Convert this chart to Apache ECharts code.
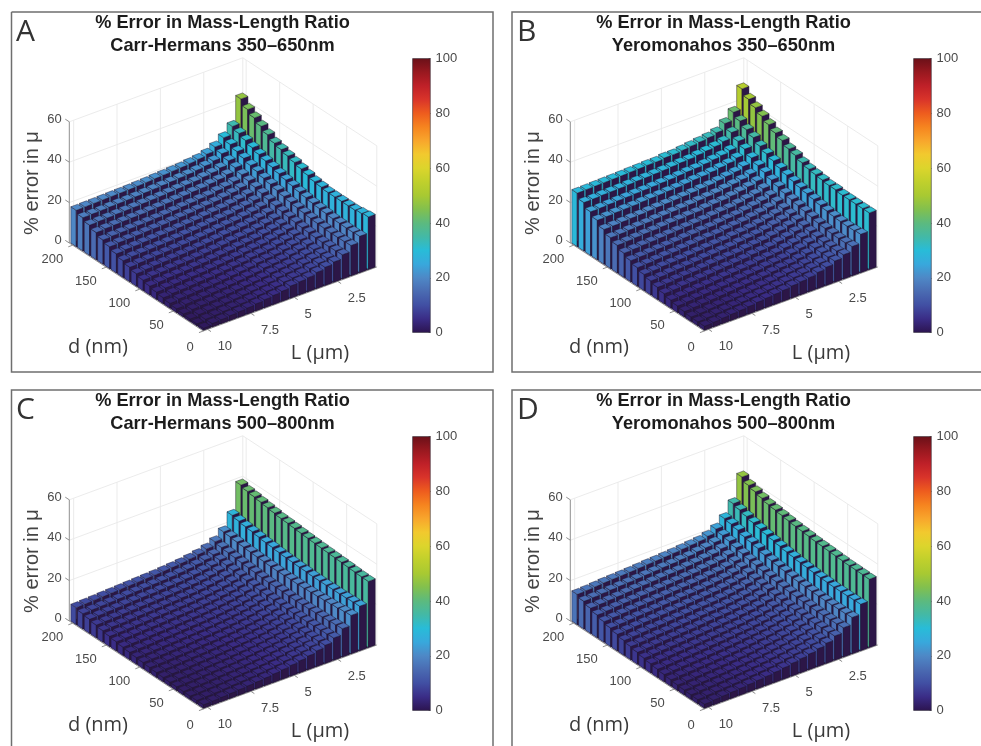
<!DOCTYPE html>
<html>
<head>
<meta charset="utf-8">
<style>html,body{margin:0;padding:0;background:#fff}#c{width:981px;height:746px}</style>
<script src="https://cdn.jsdelivr.net/npm/echarts@6/dist/echarts.min.js"></script>
</head>
<body>
<div id="c"></div>
<script>
// --- Data -----------------------------------------------------------------
const dValues = [10,20,30,40,50,60,70,80,90,100,110,120,130,140,150,160,170,180,190,200];
const lValues = [0.5,1,1.5,2,2.5,3,3.5,4,4.5,5,5.5,6,6.5,7,7.5,8,8.5,9,9.5,10];
const dTicks = [0,50,100,150,200];
const lTicks = [10,7.5,5,2.5];
const zTicks = [0,20,40,60];
const colorbarMax = 100;
const colorbarTickStep = 20;
const barColorMax = 91;
const titleLine1 = '% Error in Mass-Length Ratio';
const panelLetters = ['A','B','C','D'];
const panelSubtitles = ['Carr-Hermans 350–650nm','Yeromonahos 350–650nm','Carr-Hermans 500–800nm','Yeromonahos 500–800nm'];

// rows: d = 10..200, columns: L = 0.5..10
const errorA = [
[26,18,15,12,10,9,8,7,6.5,6,5,4.5,4,3.5,3,2.7,2.4,2,1.7,1],
[25.5,17.8,14.8,11.8,9.8,8.8,7.8,6.8,6.3,5.8,4.9,4.4,3.9,3.4,2.9,2.6,2.3,1.9,1.7,1],
[25,17.8,14.7,11.7,9.7,8.7,7.8,6.8,6.3,5.8,4.9,4.4,3.9,3.4,3,2.7,2.4,2.1,1.8,1.2],
[25,17.9,14.7,11.7,9.7,8.7,7.8,6.9,6.4,5.9,5.1,4.6,4.1,3.7,3.3,3,2.7,2.4,2.1,1.5],
[25,18,14.9,11.8,9.9,8.9,8,7.1,6.6,6.2,5.4,5,4.4,4,3.6,3.3,3,2.7,2.5,1.9],
[25,18.4,15.1,12.1,10.1,9.1,8.2,7.4,6.9,6.5,5.7,5.3,4.8,4.4,4,3.7,3.5,3.2,3,2.4],
[25,18.7,15.4,12.4,10.4,9.4,8.6,7.7,7.3,6.9,6.1,5.7,5.3,4.9,4.5,4.3,4,3.7,3.5,3],
[25.5,19.1,15.8,12.8,10.8,9.8,9,8.1,7.7,7.3,6.6,6.2,5.8,5.4,5,4.8,4.6,4.3,4.1,3.6],
[26,19.7,16.3,13.3,11.3,10.3,9.5,8.7,8.3,7.9,7.3,6.9,6.5,6.1,5.8,5.5,5.3,5.1,4.8,4.4],
[27,20.3,16.8,13.8,11.8,10.9,10,9.3,8.9,8.6,8,7.5,7.2,6.8,6.5,6.3,6.1,5.8,5.6,5.2],
[28,21.1,17.5,14.5,12.5,11.5,10.8,10.1,9.7,9.4,8.8,8.4,8,7.7,7.4,7.2,7,6.8,6.6,6.2],
[29,21.9,18.3,15.3,13.3,12.3,11.6,10.9,10.6,10.2,9.6,9.2,8.9,8.6,8.3,8.2,8,7.8,7.6,7.2],
[30,22.8,19.2,16.2,14.2,13.2,12.5,11.8,11.5,11.1,10.6,10.2,9.9,9.6,9.4,9.2,9,8.8,8.7,8.3],
[31,23.8,20,17.1,15.1,14.1,13.4,12.8,12.5,12.1,11.6,11.3,11,10.7,10.5,10.3,10.2,10,9.9,9.5],
[32,24.8,21.1,18.1,16.1,15.1,14.5,13.9,13.6,13.2,12.8,12.5,12.2,11.9,11.7,11.6,11.4,11.2,11.2,10.8],
[34,25.8,22,19,17,16,15.5,14.8,14.6,14.2,13.9,13.5,13.2,13,12.8,12.7,12.6,12.4,12.3,12],
[36,27,23.3,20.3,18.3,17.3,16.8,16.2,16,15.6,15.3,15,14.7,14.5,14.3,14.2,14.1,13.9,13.8,13.5],
[38,28.4,24.5,21.5,19.5,18.5,18,17.4,17.2,16.9,16.6,16.3,16.1,15.9,15.7,15.6,15.5,15.3,15.2,15],
[40,29.7,25.8,22.8,20.8,19.8,19.2,18.7,18.5,18.2,17.9,17.7,17.5,17.2,17.1,17,16.9,16.7,16.6,16.5],
[43,31,27,24,22,21,20.5,20,19.8,19.5,19.3,19,18.8,18.6,18.5,18.4,18.3,18.2,18.1,18]
];
const errorB = [
[28,19,14.5,12,10.5,9,8,7,6.5,6,5.4,5,4.6,4.2,3.7,3.3,3,2.7,2.3,2],
[28,18.7,14.2,11.7,10.3,8.8,7.8,6.9,6.4,5.9,5.3,4.9,4.5,4.1,3.7,3.3,3,2.7,2.3,2],
[28,18.6,14.2,11.7,10.3,8.8,7.8,6.9,6.4,5.9,5.3,4.9,4.5,4.2,3.7,3.4,3.1,2.8,2.4,2.2],
[28,18.8,14.4,11.8,10.4,9.1,8.1,7.2,6.8,6.3,5.7,5.4,5,4.7,4.3,3.9,3.6,3.3,3,2.7],
[28,19.1,14.8,12.2,10.8,9.5,8.5,7.6,7.2,6.8,6.2,5.9,5.5,5.2,4.8,4.5,4.2,3.9,3.6,3.3],
[28.5,19.6,15.2,12.6,11.2,10,9.1,8.2,7.8,7.4,6.8,6.5,6.2,5.9,5.5,5.1,4.9,4.6,4.2,4],
[28.5,20.3,16,13.3,11.9,10.8,9.9,9,8.6,8.3,7.7,7.4,7.1,6.8,6.4,6.1,5.8,5.6,5.2,5],
[29,21,16.6,14,12.7,11.6,10.7,9.9,9.5,9.1,8.5,8.3,8,7.8,7.4,7,6.8,6.6,6.2,6],
[29.5,21.7,17.4,14.7,13.4,12.4,11.5,10.8,10.4,10,9.4,9.2,8.9,8.7,8.3,8,7.8,7.6,7.2,7],
[30,22.4,18.1,15.4,14.1,13.1,12.4,11.6,11.2,10.9,10.3,10.1,9.9,9.6,9.3,8.9,8.8,8.6,8.2,8],
[31,23.3,19,16.4,15,14.1,13.4,12.7,12.4,12,11.4,11.3,11.1,10.8,10.5,10.1,10,9.7,9.4,9.2],
[32.5,24.3,20.1,17.4,16.1,15.2,14.5,13.8,13.5,13.1,12.6,12.5,12.2,12,11.7,11.4,11.2,11,10.7,10.5],
[33.5,25.5,21.3,18.6,17.3,16.5,15.8,15.1,14.9,14.5,14,13.9,13.6,13.4,13.2,12.9,12.7,12.5,12.2,12],
[35.5,27,22.8,20,18.8,18,17.3,16.7,16.5,16.1,15.6,15.5,15.2,15.1,14.8,14.5,14.4,14.2,13.9,13.7],
[37,28.3,24.1,21.3,20.1,19.4,18.8,18.2,17.9,17.6,17.2,17,16.8,16.6,16.4,16,15.9,15.7,15.4,15.3],
[39,29.9,25.7,23,21.7,21.1,20.5,19.9,19.7,19.3,19,18.8,18.6,18.4,18.2,17.9,17.8,17.6,17.3,17.2],
[41,32,27.9,25,23.8,23.2,22.6,22.1,21.9,21.5,21.2,21,20.8,20.7,20.5,20.2,20.1,20,19.7,19.6],
[43,33.7,29.6,26.6,25.6,25,24.4,23.9,23.7,23.4,23.1,22.9,22.7,22.5,22.4,22.2,22.1,21.9,21.7,21.6],
[45,35.8,31.7,28.8,27.8,27.2,26.7,26.2,26,25.7,25.4,25.2,25,24.9,24.7,24.5,24.4,24.3,24.1,24],
[48,38,34,31,30,29.5,29,28.5,28,28,27.5,27.5,27.3,27.2,27,26.9,26.8,26.7,26.6,26.5]
];
const errorC = [
[32.7,22,19,14,11,9,7.8,6.8,6,5.3,4.7,4.2,3.7,3.3,3,2.7,2.4,2.1,1.9,1.7],
[32.8,21.9,18.7,13.8,10.8,8.9,7.7,6.7,6,5.2,4.6,4.1,3.7,3.3,3,2.7,2.4,2.1,1.9,1.7],
[33,21.7,18.3,13.5,10.6,8.7,7.5,6.6,5.8,5.2,4.6,4.1,3.7,3.3,3,2.7,2.4,2.1,1.9,1.7],
[33.2,21.6,18,13.3,10.5,8.6,7.5,6.5,5.8,5.2,4.6,4.2,3.7,3.4,3.1,2.8,2.5,2.2,2,1.8],
[33.4,21.6,17.8,13.2,10.4,8.6,7.4,6.5,5.8,5.2,4.7,4.2,3.8,3.4,3.2,2.9,2.6,2.3,2.1,1.9],
[33.6,21.5,17.6,13,10.3,8.5,7.4,6.5,5.8,5.2,4.7,4.3,3.9,3.5,3.2,3,2.7,2.4,2.2,2],
[33.8,21.5,17.4,12.9,10.2,8.5,7.4,6.6,5.9,5.3,4.8,4.4,4,3.7,3.4,3.2,2.9,2.6,2.4,2.2],
[34,21.5,17.2,12.8,10.2,8.5,7.5,6.6,6,5.4,5,4.6,4.2,3.9,3.6,3.4,3.1,2.8,2.6,2.4],
[34.2,21.7,17.2,12.9,10.3,8.7,7.7,6.8,6.2,5.7,5.2,4.8,4.4,4.2,3.9,3.6,3.4,3.1,2.9,2.7],
[34.4,21.8,17.2,13,10.4,8.8,7.8,7,6.4,5.9,5.5,5.1,4.7,4.5,4.2,3.9,3.7,3.4,3.2,3],
[34.7,22,17.1,13,10.5,9,8,7.2,6.6,6.1,5.7,5.3,5,4.7,4.5,4.2,4,3.7,3.5,3.3],
[35,22.1,17.1,13,10.7,9.1,8.2,7.4,6.9,6.4,6,5.6,5.4,5.1,4.8,4.6,4.4,4.1,3.9,3.7],
[35.3,22.4,17.2,13.2,10.9,9.4,8.4,7.7,7.2,6.7,6.3,6,5.7,5.5,5.2,5,4.8,4.5,4.3,4.1],
[35.5,22.8,17.4,13.5,11.2,9.7,8.7,8.1,7.5,7.1,6.7,6.4,6.2,6,5.7,5.4,5.3,5,4.8,4.6],
[36,23,17.5,13.7,11.5,10,9.1,8.4,7.9,7.5,7.1,6.8,6.6,6.4,6.2,5.9,5.7,5.5,5.3,5.1],
[36.5,23.5,17.7,14,11.8,10.4,9.5,8.9,8.3,7.9,7.6,7.3,7.1,6.9,6.7,6.5,6.3,6,5.9,5.7],
[37,24,18,14.3,12.2,10.9,10,9.3,8.8,8.4,8.1,7.9,7.7,7.5,7.3,7.1,6.9,6.6,6.5,6.3],
[37.5,24.3,18.3,14.6,12.6,11.3,10.5,9.9,9.4,9,8.8,8.6,8.3,8.2,8,7.8,7.6,7.4,7.2,7],
[38,24.9,18.7,15,13,11.9,11.1,10.5,10.1,9.7,9.4,9.2,9,8.8,8.6,8.4,8.2,8,7.8,7.6],
[39,25.6,19,15.7,13.7,12.5,11.8,11.2,10.8,10.5,10.2,10,9.8,9.6,9.4,9.2,9,8.8,8.6,8.4]
];
const errorD = [
[33.8,23,18,14.5,12,10,8.8,7.8,7,6.3,5.6,5,4.5,4.1,3.7,3.3,3,2.7,2.4,2],
[33.9,22.9,17.8,14.3,11.8,10,8.7,7.8,7,6.3,5.6,5,4.6,4.2,3.8,3.4,3.1,2.8,2.5,2.1],
[34,22.8,17.8,14.2,11.8,9.9,8.8,7.8,7.1,6.4,5.8,5.2,4.7,4.3,4,3.6,3.3,3,2.7,2.3],
[34,22.8,17.6,14.1,11.7,9.9,8.8,7.9,7.1,6.5,5.9,5.3,4.9,4.5,4.1,3.8,3.5,3.2,2.9,2.5],
[34.2,22.8,17.7,14.1,11.7,10,8.9,8,7.3,6.7,6.1,5.6,5.1,4.8,4.4,4.1,3.8,3.5,3.2,2.8],
[34.4,23,17.8,14.3,11.9,10.2,9,8.2,7.5,7,6.4,5.9,5.5,5.1,4.8,4.4,4.2,3.9,3.6,3.2],
[34.6,23.1,17.9,14.3,11.9,10.3,9.2,8.4,7.7,7.2,6.8,6.3,5.9,5.5,5.2,4.8,4.6,4.3,4,3.6],
[34.8,23.4,18.1,14.6,12,10.5,9.4,8.7,8.1,7.5,7.2,6.7,6.3,6,5.6,5.3,5,4.7,4.4,4.1],
[35,23.7,18.3,14.8,12.5,10.9,9.8,9,8.5,7.9,7.6,7.1,6.8,6.4,6.1,5.8,5.5,5.2,4.9,4.6],
[35.4,24,18.6,15.1,12.8,11.3,10.3,9.5,9,8.4,8.1,7.7,7.3,7,6.7,6.4,6.1,5.8,5.5,5.2],
[35.7,24.5,19.1,15.5,13.3,11.8,10.7,10.1,9.5,9,8.7,8.4,8,7.6,7.4,7,6.8,6.5,6.2,5.9],
[36,24.9,19.5,16,13.7,12.2,11.3,10.6,10.1,9.6,9.4,9,8.6,8.3,8,7.7,7.5,7.2,6.9,6.6],
[36.5,25.5,20,16.4,14.2,12.9,11.9,11.2,10.7,10.3,10,9.8,9.4,9.1,8.8,8.5,8.3,8,7.7,7.4],
[37,26.2,20.6,17.1,14.9,13.4,12.7,12,11.5,11.2,10.9,10.6,10.2,10,9.7,9.4,9.2,8.9,8.6,8.3],
[37.5,26.8,21.7,17.6,15.5,14.2,13.3,12.8,12.3,11.9,11.7,11.5,11.1,10.9,10.6,10.3,10.1,9.8,9.5,9.2],
[38,27.6,22.4,18.4,16.2,15,14.2,13.8,13.2,12.9,12.7,12.4,12.1,11.9,11.6,11.3,11.1,10.8,10.5,10.2],
[39,28.4,23,19.2,17.1,15.8,15.3,14.9,14.3,14,13.7,13.5,13.2,13,12.7,12.4,12.2,11.9,11.6,11.3],
[40,29.4,24.2,20.3,18.1,16.9,16.4,15.8,15.5,15.1,14.9,14.7,14.4,14.1,13.9,13.6,13.3,13,12.7,12.5],
[41,30.4,25,21,19,18,17.5,16.9,16.6,16.2,16,15.7,15.4,15.1,14.9,14.7,14.4,14.2,13.9,13.7],
[43,31.4,25.6,22,20,19,18.6,18.2,17.8,17.5,17.2,17,16.7,16.4,16.2,16,15.8,15.5,15.2,15]
];
const errorTables = [errorA,errorB,errorC,errorD];

const colorStopsHex = ['#2c1450','#3a2c86','#414fa3','#4a6bb2','#4e88c6','#38a8dc','#28bcd8','#43b9a6','#5cba7e','#82c04e','#a8c932','#c0d02c','#dcd52c','#f2c92e','#f8a62c','#f6841f','#ee5c1e','#d9342a','#bf2028','#98181f','#6a1018'];

// --- Layout / projection ---------------------------------------------------
const SANS = '"Liberation Sans", Arial, sans-serif';
const HUMAN = '"Open Sans", sans-serif';
const GRAY = '#4a4a4a';
const D0 = 5, D1 = 205, L0 = 0.25, L1 = 10.25, ZTOP = 60;
const FRONT = [203.3, 331], SPAN_D = [134, 88], SPAN_L = [173.5, 64], Z_PX = 2.02;
const BAR = 0.8, CELL_D = 10, CELL_L = 0.5;
const SIDE_DARK = '#2c1647';
const panelOffsets = [[0,0],[501,0],[0,378],[501,378]];

function project(d, L, z) {
  const dn = (d - D0) / (D1 - D0), ln = (L1 - L) / (L1 - L0);
  return [FRONT[0] - dn * SPAN_D[0] + ln * SPAN_L[0],
          FRONT[1] - dn * SPAN_D[1] - ln * SPAN_L[1] - z * Z_PX];
}

function renderBar(params, api) {
  const d = api.value(0), L = api.value(1), z = api.value(2);
  const c = api.visual('color');
  const hd = CELL_D * BAR / 2, hl = CELL_L * BAR / 2;
  const P = (a, b, h) => api.coord(project(a, b, h));
  const near = d - hd, far = d + hd, lo = L - hl, hi = L + hl;
  const edge = {stroke: '#20182e', lineWidth: 0.45, lineJoin: 'round'};
  return {type: 'group', children: [
    {type: 'polygon', shape: {points: [P(near,hi,0),P(far,hi,0),P(far,hi,z),P(near,hi,z)]}, style: Object.assign({fill: c}, edge)},
    {type: 'polygon', shape: {points: [P(near,hi,0),P(near,lo,0),P(near,lo,z),P(near,hi,z)]}, style: Object.assign({fill: SIDE_DARK}, edge)},
    {type: 'polygon', shape: {points: [P(near,hi,z),P(far,hi,z),P(far,lo,z),P(near,lo,z)]}, style: Object.assign({fill: c}, edge)}
  ]};
}

// wall grid, axis lines, tick marks, floor: [d1,L1,z1, d2,L2,z2, kind]
function buildSegments() {
  const s = [];
  const tickL = lTicks, tickD = dTicks.filter(v => v > 0);
  [0,20,40,60].forEach(z => {
    s.push([D1,L1,z, D1,L0,z, 0]);
    s.push([D1,L0,z, D0,L0,z, 0]);
  });
  tickL.forEach(L => s.push([D1,L,0, D1,L,ZTOP, 0]));
  tickD.forEach(d => s.push([d,L0,0, d,L0,ZTOP, 0]));
  s.push([D1,L0,0, D1,L0,ZTOP, 0]);
  s.push([D0,L0,0, D0,L0,ZTOP, 0]);
  s.push([D1,L1,0, D0,L1,0, 1]);
  s.push([D0,L1,0, D0,L0,0, 1]);
  s.push([D1,L1,0, D1,L1,ZTOP, 1]);
  tickL.forEach(L => s.push([D0,L,0, D0-5,L,0, 1]));
  dTicks.forEach(d => s.push([Math.max(d,D0),L1,0, Math.max(d,D0),L1+0.25,0, 1]));
  zTicks.forEach(z => s.push([D1,L1,z, D1+6,L1,z, 1]));
  const inD = CELL_D * BAR / 2, inL = CELL_L * BAR / 2;
  s.push([dValues[0]-inD, lValues[lValues.length-1]+inL, 0, dValues[dValues.length-1]+inD, lValues[0]-inL, 0, 2]);
  return s;
}
const segments = buildSegments();

function renderSegment(params, api) {
  const d1 = api.value(0), l1 = api.value(1), z1 = api.value(2), d2 = api.value(3), l2 = api.value(4), z2 = api.value(5);
  const kind = api.value(6);
  if (kind === 2) {
    return {type: 'polygon', shape: {points: [
      api.coord(project(d1,l1,0)), api.coord(project(d2,l1,0)), api.coord(project(d2,l2,0)), api.coord(project(d1,l2,0))]},
      style: {fill: SIDE_DARK}};
  }
  const a = api.coord(project(d1, l1, z1));
  const b = api.coord(project(d2, l2, z2));
  const axis = kind === 1;
  return {type: 'line', shape: {x1: a[0], y1: a[1], x2: b[0], y2: b[1]},
          style: {stroke: axis ? '#8f8f8f' : '#e9e9e9', lineWidth: axis ? 1 : 0.9}};
}

// tick labels
function buildLabels() {
  const out = [];
  dTicks.forEach(v => {
    const p = project(Math.max(v, D0), L1, 0);
    out.push({pos: [p[0] - 9.5, p[1] + (v === 0 ? 16 : 14)], text: String(v), align: 'right'});
  });
  lTicks.forEach(v => {
    const p = project(D0, v, 0);
    out.push({pos: [p[0] + 10, p[1] + 17], text: String(v), align: 'left'});
  });
  zTicks.forEach(v => {
    const p = project(D1, L1, v);
    out.push({pos: [p[0] - 7.5, p[1] - 2.5], text: String(v), align: 'right'});
  });
  return out;
}
const tickLabels = buildLabels();

function renderLabel(params, api) {
  const item = tickLabels[params.dataIndex];
  const c = api.coord(item.pos);
  return {type: 'text', x: c[0], y: c[1], style: {text: item.text, textAlign: item.align, textVerticalAlign: 'middle', fill: GRAY, font: '13px ' + SANS}};
}

const grids = [], xAxes = [], yAxes = [], series = [], titles = [], graphics = [];
const barSeriesIdx = [];

panelOffsets.forEach((off, i) => {
  const ox = off[0], oy = off[1];
  const p = grids.length;
  grids.push({left: ox, top: oy, width: 480, height: 368, containLabel: false});
  xAxes.push({type: 'value', gridIndex: p, min: 0, max: 480, show: false});
  yAxes.push({type: 'value', gridIndex: p, min: 0, max: 368, inverse: true, show: false});

  series.push({type: 'custom', name: 'walls' + panelLetters[i], xAxisIndex: p, yAxisIndex: p, z: 2, silent: true,
    animation: false, renderItem: renderSegment, dimensions: ['a','b','c','d','e','f','g'],
    encode: {x: 0, y: 1}, data: segments});

  const table = errorTables[i], rows = [];
  for (let r = dValues.length - 1; r >= 0; r--) {
    for (let k = 0; k < lValues.length; k++) rows.push([dValues[r], lValues[k], table[r][k]]);
  }
  barSeriesIdx.push(series.length);
  series.push({type: 'custom', name: 'error' + panelLetters[i], xAxisIndex: p, yAxisIndex: p, z: 3, silent: true,
    animation: false, progressive: 0, renderItem: renderBar, dimensions: ['d','L','err'],
    encode: {x: 0, y: 1}, data: rows});

  series.push({type: 'custom', name: 'ticks' + panelLetters[i], xAxisIndex: p, yAxisIndex: p, z: 4, silent: true,
    animation: false, renderItem: renderLabel, encode: {x: 0, y: 1},
    data: tickLabels.map(t => t.pos)});

  titles.push({text: titleLine1 + '\n' + panelSubtitles[i], left: 222.5 + ox, top: oy + 11, padding: 0, textAlign: 'center',
    textStyle: {fontFamily: SANS, fontSize: 18.2, fontWeight: 'bold', color: '#1c1c1c', lineHeight: 23}});

  graphics.push({type: 'text', x: 16 + ox, y: 17 + oy, style: {text: panelLetters[i], font: '30px ' + HUMAN, fill: '#333'}});
  graphics.push({type: 'text', x: 32 + ox, y: 183 + oy, rotation: Math.PI / 2,
    style: {text: '% error in μ', font: '20px ' + SANS, fill: '#444', textAlign: 'center', textVerticalAlign: 'middle'}});
  graphics.push({type: 'text', x: 98 + ox, y: 347 + oy, style: {text: 'd (nm)', font: '20px ' + HUMAN, fill: '#3a3a3a', textAlign: 'center', textVerticalAlign: 'middle'}});
  graphics.push({type: 'text', x: 320 + ox, y: 353 + oy, style: {text: 'L (μm)', font: '20px ' + HUMAN, fill: '#3a3a3a', textAlign: 'center', textVerticalAlign: 'middle'}});

  // colour bar
  const g = grids.length;
  grids.push({left: 412.3 + ox, top: 58.3 + oy, width: 18.3, height: 274.4, containLabel: false});
  xAxes.push({type: 'category', gridIndex: g, data: [''], show: false});
  yAxes.push({type: 'value', gridIndex: g, min: 0, max: colorbarMax, interval: colorbarTickStep, position: 'right',
    axisLine: {show: false}, splitLine: {show: false},
    axisTick: {show: true, inside: true, length: 2, lineStyle: {color: '#666', width: 0.8}},
    axisLabel: {fontFamily: SANS, fontSize: 13, color: GRAY, margin: 5}});
  series.push({type: 'bar', xAxisIndex: g, yAxisIndex: g, data: [colorbarMax], barWidth: '100%', silent: true, animation: false, z: 2,
    itemStyle: {borderColor: '#33303a', borderWidth: 0.6, color: {type: 'linear', x: 0, y: 1, x2: 0, y2: 0,
      colorStops: colorStopsHex.map((c, n) => ({offset: n / (colorStopsHex.length - 1), color: c}))}}});
});

// panel frames
const FRAME = {stroke: '#6f6f6f', lineWidth: 1.5, fill: 'none'};
graphics.push({type: 'polyline', shape: {points: [[11.5,12],[493,12],[493,372],[11.5,372],[11.5,12]]}, style: FRAME});
graphics.push({type: 'polyline', shape: {points: [[981,12],[512,12],[512,372],[981,372]]}, style: FRAME});
graphics.push({type: 'polyline', shape: {points: [[11.5,746],[11.5,390],[493,390],[493,746]]}, style: FRAME});
graphics.push({type: 'polyline', shape: {points: [[512,746],[512,390],[981,390]]}, style: FRAME});

const chart = echarts.init(document.getElementById('c'), null, {renderer: 'canvas', width: 981, height: 746});
chart.setOption({
  animation: false,
  backgroundColor: '#fff',
  title: titles,
  grid: grids,
  xAxis: xAxes,
  yAxis: yAxes,
  visualMap: [{type: 'continuous', show: false, min: 0, max: barColorMax, dimension: 2, seriesIndex: barSeriesIdx,
    inRange: {color: colorStopsHex}}],
  graphic: {elements: graphics},
  series: series
});
</script>
</body>
</html>
